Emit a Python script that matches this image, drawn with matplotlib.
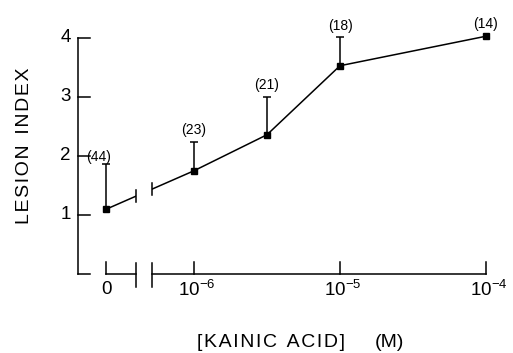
#!/usr/bin/env python3
"""Lesion index vs kainic acid concentration, old journal style with a broken x axis."""

import numpy as np
import matplotlib

matplotlib.use("Agg")
import matplotlib.pyplot as plt
from matplotlib.patches import Rectangle

# data
conc = [0, 1e-6, 3.16e-6, 1e-5, 1e-4]
lesion = [1.10, 1.75, 2.36, 3.53, 4.03]
sem = [0.76, 0.49, 0.64, 0.48, 0.0]
n_rats = [44, 23, 21, 18, 14]
y_ticks = [1, 2, 3, 4]
x_ticks = [1e-6, 1e-5, 1e-4]
x_tick_labels = ["$10^{-6}$", "$10^{-5}$", "$10^{-4}$"]

# where "0" sits on the log scale, and the break in the axis
ZERO_POS = -6.6
BREAK = (-6.40, -6.29)
YAXIS_X = -6.795

plt.rcParams.update(
    {
        "font.family": ["Liberation Sans", "DejaVu Sans"],
        "mathtext.fontset": "custom",
        "mathtext.rm": "Liberation Sans",
        "mathtext.it": "Liberation Sans:italic",
        "mathtext.bf": "Liberation Sans:bold",
    }
)


def xpos(c):
    return ZERO_POS if c == 0 else np.log10(c)


def spaced(s):
    # the typewriter-ish lettering in the original is loosely tracked
    return "\u200a".join(s)


fig = plt.figure(figsize=(5.13, 3.53), dpi=100)
ax = fig.add_axes([0, 0, 1, 1])
ax.set_xlim(-7.329, -3.815)
ax.set_ylim(-1.339, 4.644)
ax.axis("off")

lw = 1.1
k = "black"
xs = np.array([xpos(c) for c in conc])
ys = np.array(lesion)

# y axis with inward ticks
ax.plot([YAXIS_X, YAXIS_X], [0, 4], color=k, lw=lw)
tick_len_x = 0.08
ax.plot([YAXIS_X, YAXIS_X + tick_len_x], [0, 0], color=k, lw=lw)
for t in y_ticks:
    ax.plot([YAXIS_X, YAXIS_X + tick_len_x], [t, t], color=k, lw=lw)
    ax.text(YAXIS_X - 0.085, t, str(t), ha="center", va="center", fontsize=13.5)

# x axis, broken between the control and the concentration range
ax.plot([xs[0], BREAK[0]], [0, 0], color=k, lw=lw)
ax.plot([BREAK[1], np.log10(x_ticks[-1])], [0, 0], color=k, lw=lw)
for b in BREAK:
    ax.plot([b, b], [-0.22, 0.19], color=k, lw=lw)
tick_len_y = 0.2
ax.plot([xs[0], xs[0]], [0, tick_len_y], color=k, lw=lw)
ax.text(xs[0], -0.27, "0", ha="center", va="center", fontsize=13.5)
for t, lab in zip(x_ticks, x_tick_labels):
    ax.plot([np.log10(t)] * 2, [0, tick_len_y], color=k, lw=lw)
    ax.text(np.log10(t) + 0.02, -0.27, lab, ha="center", va="center", fontsize=13.5)

# data line with a gap at the axis break
ax.plot(xs, ys, color=k, lw=lw, zorder=2)
ax.add_patch(Rectangle((BREAK[0], 0.5), BREAK[1] - BREAK[0], 1.5,
                       facecolor="white", edgecolor="none", zorder=3))
for b in BREAK:
    yb = np.interp(b, xs, ys)
    ax.plot([b, b], [yb - 0.1, yb + 0.1], color=k, lw=lw, zorder=4)

ax.plot(xs, ys, ls="none", marker="s", ms=4.5, color=k, zorder=5)

# upward-only error bars
tops = ys + np.array(sem)
has_err = np.array(sem) > 0
ax.vlines(xs[has_err], ys[has_err], tops[has_err], color=k, lw=lw)
ax.plot(xs[has_err], tops[has_err], ls="none", marker="_", ms=5.5, mew=lw, color=k)

# group sizes
for i, (x, top, n) in enumerate(zip(xs, tops, n_rats)):
    if i == 0:
        ax.annotate(f"({n})", (x, top), xytext=(-6, 5), textcoords="offset points",
                    ha="center", va="center", fontsize=10)
    else:
        ax.annotate(f"({n})", (x, top), xytext=(0, 8.5), textcoords="offset points",
                    ha="center", va="center", fontsize=10)

# axis titles
ax.text(-7.158, 2.17, spaced("LESION") + "  " + spaced("INDEX"), rotation=90,
        ha="center", va="center", fontsize=14)
ax.text(-5.473, -1.153, spaced("[KAINIC") + "  " + spaced("ACID]"),
        ha="center", va="center", fontsize=14)
ax.text(-4.658, -1.153, "(M)", ha="center", va="center", fontsize=14)

fig.savefig("out.png", dpi=100, facecolor="white")
